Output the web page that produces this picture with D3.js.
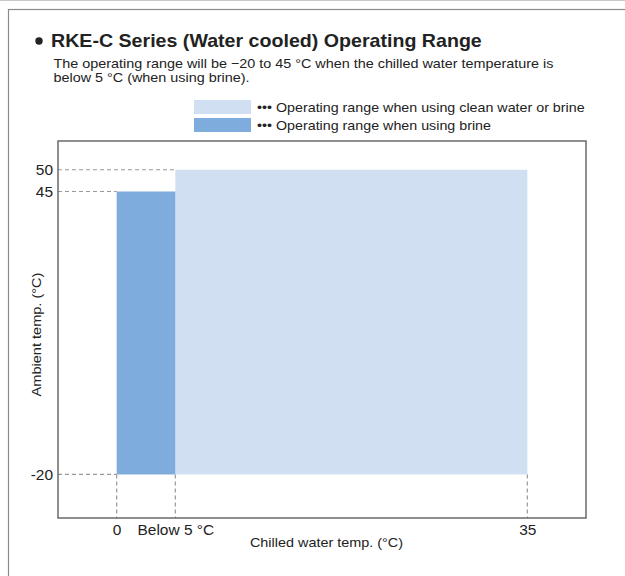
<!DOCTYPE html>
<html><head><meta charset="utf-8">
<script src="https://cdn.jsdelivr.net/npm/d3@7/dist/d3.min.js"></script>
<style>body{margin:0;background:#fff}svg{display:block;font-family:"Liberation Sans",Arial,sans-serif}</style>
</head><body><svg id="c" width="625" height="576"></svg>
<script>
const title = "RKE-C Series (Water cooled) Operating Range";
const subtitle = ["The operating range will be \u221220 to 45 \u00b0C when the chilled water temperature is", "below 5 \u00b0C (when using brine)."];
const seriesNames = ["Operating range when using clean water or brine", "Operating range when using brine"];
// ranges: [xStart, xEnd, yLow, yHigh]
const cleanRange = [5, 35, -20, 50];
const brineRange = [0, 5, -20, 45];
const xTicks = [0, 5, 35];
const xTickLabels = ["0", "Below 5 \u00b0C", "35"];
const yTicks = [50, 45, -20];
const yTickLabels = ["50", "45", "-20"];
const colors = ["#d0e0f2", "#7eacdc"];

const svg = d3.select("#c");
const L = 58, R = 586, T = 141, B = 518;
const x = d3.scaleLinear().domain([-5, 40]).range([L, R]);
const y = d3.scaleLinear().domain([-30, 56.6]).range([B, T]);

// horizontal widening of glyphs to match the reference typeface
function stretch(sel, f) {
  sel.each(function () {
    const w = this.getComputedTextLength();
    d3.select(this).attr("textLength", w * f).attr("lengthAdjust", "spacingAndGlyphs");
  });
  return sel;
}

// outer border
svg.append("line").attr("x1", 0).attr("x2", 625).attr("y1", 0.5).attr("y2", 0.5).attr("stroke", "#c8c8c8");
svg.append("rect").attr("x", 8.5).attr("y", 9.5).attr("width", 640).attr("height", 600)
  .attr("fill", "none").attr("stroke", "#8a8a8a").attr("stroke-width", 1.2);

svg.append("circle").attr("cx", 39).attr("cy", 41).attr("r", 3.7).attr("fill", "#222");
stretch(svg.append("text").attr("x", 51).attr("y", 47).attr("font-size", 18.5).attr("font-weight", "bold").attr("fill", "#222").text(title), 1.06);
subtitle.forEach((s, i) => stretch(svg.append("text").attr("x", 53.5).attr("y", 67.5 + i * 14.5).attr("font-size", 13.2).attr("fill", "#222").text(s), 1.09));

// legend
seriesNames.forEach((s, i) => {
  svg.append("rect").attr("x", 194).attr("y", 100 + i * 18).attr("width", 57).attr("height", 14).attr("fill", colors[i]);
  stretch(svg.append("text").attr("x", 257).attr("y", 112 + i * 18).attr("font-size", 13.6).attr("fill", "#222").text("\u2022\u2022\u2022 " + s), 1.05);
});

// ranges
const g = svg.append("g");
g.append("rect").attr("x", x(cleanRange[0])).attr("y", y(cleanRange[3]))
  .attr("width", x(cleanRange[1]) - x(cleanRange[0])).attr("height", y(cleanRange[2]) - y(cleanRange[3])).attr("fill", colors[0]);
g.append("rect").attr("x", x(brineRange[0])).attr("y", y(brineRange[3]))
  .attr("width", x(brineRange[1]) - x(brineRange[0])).attr("height", y(brineRange[2]) - y(brineRange[3])).attr("fill", colors[1]);

// dashed guides
const dash = {stroke: "#999", "stroke-width": 1.2, "stroke-dasharray": "4,3"};
function dline(x1, y1, x2, y2) {
  const l = g.append("line").attr("x1", x1).attr("y1", y1).attr("x2", x2).attr("y2", y2);
  Object.entries(dash).forEach(([k, v]) => l.attr(k, v));
}
dline(L, y(cleanRange[3]), x(cleanRange[0]), y(cleanRange[3]));
dline(L, y(brineRange[3]), x(brineRange[0]), y(brineRange[3]));
dline(L, y(brineRange[2]), x(brineRange[0]), y(brineRange[2]));
xTicks.forEach(v => dline(x(v), y(-20), x(v), B));

// frame
svg.append("rect").attr("x", L).attr("y", T).attr("width", R - L).attr("height", B - T)
  .attr("fill", "none").attr("stroke", "#6a6a6a").attr("stroke-width", 1.5);

// axes via d3 with custom labels
const xAxis = d3.axisBottom(x).tickValues(xTicks).tickSize(0).tickPadding(7)
  .tickFormat((d, i) => xTickLabels[i]);
const xa = svg.append("g").attr("transform", `translate(0,${B})`).call(xAxis);
xa.select(".domain").remove();
stretch(xa.selectAll("text").attr("font-size", 14.6).attr("fill", "#222").attr("font-family", "Liberation Sans, Arial, sans-serif"), 1.06);

const yAxis = d3.axisLeft(y).tickValues(yTicks).tickSize(0).tickPadding(5)
  .tickFormat((d, i) => yTickLabels[i]);
const ya = svg.append("g").attr("transform", `translate(${L},0)`).call(yAxis);
ya.select(".domain").remove();
stretch(ya.selectAll("text").attr("font-size", 14.6).attr("fill", "#222").attr("font-family", "Liberation Sans, Arial, sans-serif"), 1.06);

stretch(svg.append("text").attr("x", 326.5).attr("y", 547).attr("text-anchor", "middle").attr("font-size", 13.6).attr("fill", "#222").text("Chilled water temp. (\u00b0C)"), 1.06);
stretch(svg.append("text").attr("transform", `translate(41,${(T + B) / 2 + 5}) rotate(-90)`).attr("text-anchor", "middle").attr("font-size", 13.6).attr("fill", "#222").text("Ambient temp. (\u00b0C)"), 1.07);
</script></body></html>
